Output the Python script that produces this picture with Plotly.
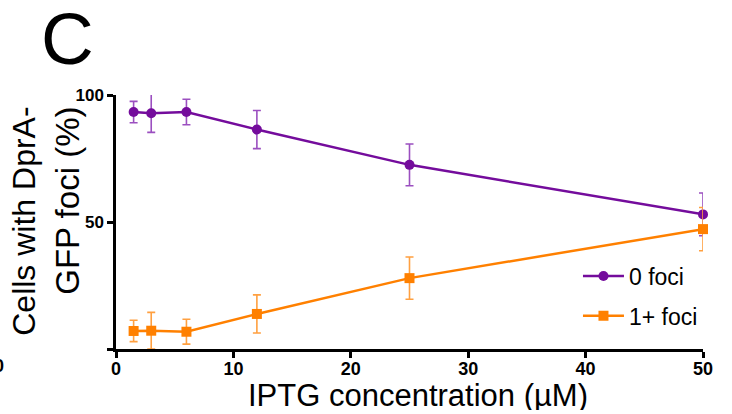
import plotly.graph_objects as go

# IPTG concentrations (µM)
iptg = [1.5, 3, 6, 12, 25, 50]

# Percentage of cells with no DprA-GFP foci, mean and error
zero_foci = [93.3, 92.8, 93.3, 86.4, 72.5, 53.0]
zero_foci_err = [4.2, 7.5, 5.0, 7.5, 8.2, 8.4]

# Percentage of cells with one or more DprA-GFP foci, mean and error
one_plus_foci = [7.1, 7.2, 6.8, 13.8, 27.9, 47.2]
one_plus_foci_err = [4.2, 7.2, 4.9, 7.5, 8.3, 8.5]

x_ticks = [0, 10, 20, 30, 40, 50]
y_ticks = [0, 50, 100]
y_tick_text = ["", "50", "100"]

PURPLE = "#740C9C"
PURPLE_ERR = "#9B4FC0"
ORANGE = "#FF8000"
ORANGE_ERR = "#FFA040"
FONT = "Liberation Sans, Arial"

fig = go.Figure()

fig.add_trace(go.Scatter(
    x=iptg, y=zero_foci, name="0 foci", mode="lines+markers",
    line=dict(color=PURPLE, width=2.5),
    marker=dict(symbol="circle", size=10, color=PURPLE),
    error_y=dict(type="data", array=zero_foci_err, visible=True,
                 color=PURPLE_ERR, thickness=1.6, width=4),
    cliponaxis=False, legendgroup="a",
))

fig.add_trace(go.Scatter(
    x=iptg, y=one_plus_foci, name="1+ foci", mode="lines+markers",
    line=dict(color=ORANGE, width=2.5),
    marker=dict(symbol="square", size=10, color=ORANGE),
    error_y=dict(type="data", array=one_plus_foci_err, visible=True,
                 color=ORANGE_ERR, thickness=1.6, width=4),
    cliponaxis=False, legendgroup="b",
))

axis_common = dict(
    showline=True, linecolor="black", linewidth=2.5,
    ticks="outside", ticklen=6, tickwidth=2.5, tickcolor="black",
    showgrid=False, zeroline=False, automargin=False,
)

fig.update_xaxes(
    range=[0, 50], tickvals=x_ticks, ticklabelstandoff=-4,
    tickfont=dict(family=FONT, size=18, color="black", weight="bold"),
    **axis_common,
)
fig.update_yaxes(
    range=[0, 100], tickvals=y_ticks, ticktext=y_tick_text,
    tickfont=dict(family=FONT, size=17, color="black", weight="bold"),
    **axis_common,
)

# plot area in pixels: x 116..703, y 95..349.5
L, R, T, B = 116, 703, 95, 349.5


def px_to_paper(px, py):
    return (px - L) / (R - L), (B - py) / (B - T)


# (text, x px, y px, font size, angle, extra options)
labels = [
    ("C", 67, 38, 73, 0, dict(height=58)),
    ("Cells with DprA-", 24, 222, 32, -90, {}),
    ("GFP foci (%)", 68, 201, 33, -90, {}),
    ("IPTG concentration (µM)", 418, 396, 31, 0, dict(height=30)),
    # tick label of the neighbouring panel, cut by the page edge
    ("<b>0</b>", -1, 367, 18, 0, {}),
]

ann_objs = []
for text, px, py, size, angle, extra in labels:
    xp, yp = px_to_paper(px, py)
    ann = dict(
        text=text, x=xp, y=yp, xref="paper", yref="paper",
        xanchor="center", yanchor="middle", showarrow=False,
        textangle=angle, font=dict(family=FONT, size=size, color="black"),
    )
    ann.update(extra)
    ann_objs.append(ann)

fig.update_layout(
    width=732, height=414,
    margin=dict(l=L, r=732 - R, t=T, b=414 - B, autoexpand=False),
    paper_bgcolor="white", plot_bgcolor="white",
    annotations=ann_objs,
    legend=dict(
        x=0.787, y=0.372, xanchor="left", yanchor="top",
        font=dict(family=FONT, size=23, color="black"),
        bgcolor="rgba(0,0,0,0)", tracegroupgap=7, traceorder="grouped",
        itemwidth=41,
    ),
    showlegend=True,
)

fig.write_html("out.html")
